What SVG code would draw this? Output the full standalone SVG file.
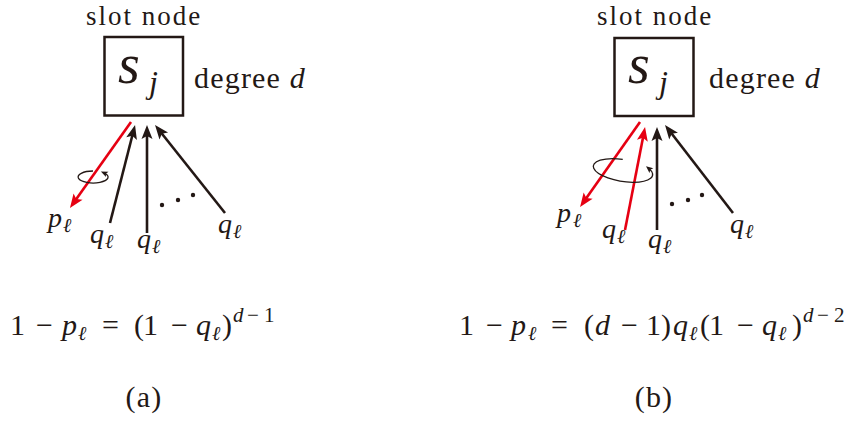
<svg xmlns="http://www.w3.org/2000/svg" width="851" height="422" viewBox="0 0 851 422">
<style>
text{font-family:"Liberation Serif","DejaVu Serif","Times New Roman",serif;fill:#231815}
.lbl{font-size:30px;letter-spacing:1.2px}
.top{font-size:27px;letter-spacing:2px}
.it{font-style:italic}
.m{font-size:30px}
.sub{font-size:20px;font-style:italic}
.sup{font-size:21px}
.box{fill:none;stroke:#231815;stroke-width:2.5}
.blk{stroke:#231815;stroke-width:2.6;fill:none}
.red{stroke:#e60012;stroke-width:2.6;fill:none}
.rot{stroke:#231815;stroke-width:1.3;fill:none}
</style>
<defs>
<marker id="ab" markerUnits="userSpaceOnUse" viewBox="-10 -10 20 20" markerWidth="20" markerHeight="20" refX="0" refY="0" orient="auto">
<path d="M7,0 L-7,-5.5 L-4,0 L-7,5.5 Z" fill="#231815"/>
</marker>
<marker id="ar" markerUnits="userSpaceOnUse" viewBox="-10 -10 20 20" markerWidth="20" markerHeight="20" refX="0" refY="0" orient="auto">
<path d="M7,0 L-7,-5.5 L-4,0 L-7,5.5 Z" fill="#e60012"/>
</marker>
<marker id="as" markerUnits="userSpaceOnUse" viewBox="-6 -6 12 12" markerWidth="12" markerHeight="12" refX="0" refY="0" orient="auto">
<path d="M4,0 L-3,-3 L-1.5,0 L-3,3 Z" fill="#231815"/>
</marker>
</defs>

<!-- Panel (a) -->
<g id="node-a">
<text class="top" x="144" y="25" text-anchor="middle">slot node</text>
<rect class="box" x="104.5" y="37" width="78.5" height="78.5"/>
<text class="it" x="118" y="83" font-size="56">s</text>
<text class="it" x="149" y="93" font-size="32">j</text>
<text class="lbl" x="194" y="88">degree <tspan class="it">d</tspan></text>
</g>
<g id="connectors-a">
<line class="red" x1="131" y1="122" x2="74.0" y2="202.3" marker-end="url(#ar)"/>
<line class="blk" x1="110" y1="223" x2="133.3" y2="131.8" marker-end="url(#ab)"/>
<line class="blk" x1="147" y1="233" x2="147" y2="132" marker-end="url(#ab)"/>
<line class="blk" x1="225" y1="213" x2="159.4" y2="130.5" marker-end="url(#ab)"/>
<path class="rot" d="M93,171 A15,6 0 1 0 104.5,173.1" marker-end="url(#as)"/>
<circle cx="162" cy="205" r="2.2" fill="#231815"/>
<circle cx="178" cy="200" r="2.2" fill="#231815"/>
<circle cx="193" cy="195" r="2.2" fill="#231815"/>
</g>
<g id="labels-a">
<text x="48" y="227"><tspan class="it" font-size="28">p</tspan><tspan class="sub" x="63" y="232">ℓ</tspan></text>
<text x="90" y="243"><tspan class="it" font-size="28">q</tspan><tspan class="sub" x="105" y="248">ℓ</tspan></text>
<text x="137" y="248"><tspan class="it" font-size="28">q</tspan><tspan class="sub" x="152" y="253">ℓ</tspan></text>
<text x="218" y="233"><tspan class="it" font-size="28">q</tspan><tspan class="sub" x="233" y="238">ℓ</tspan></text>
</g>
<g id="eq-a">
<text class="m" x="10" y="335">1<tspan x="36">−</tspan><tspan class="it" x="62">p</tspan><tspan class="sub" x="78" y="340">ℓ</tspan><tspan x="102" y="335">=</tspan><tspan x="134">(</tspan><tspan x="143">1</tspan><tspan x="171">−</tspan><tspan class="it" x="196">q</tspan><tspan class="sub" x="212" y="340">ℓ</tspan><tspan x="222" y="335">)</tspan><tspan class="sup it" x="233" y="322">d</tspan><tspan class="sup" x="247">−</tspan><tspan class="sup" x="264">1</tspan></text>
</g>
<text class="lbl" x="144" y="407" text-anchor="middle">(a)</text>

<!-- Panel (b) -->
<g id="node-b">
<text class="top" x="655" y="25" text-anchor="middle">slot node</text>
<rect class="box" x="614.5" y="38" width="79" height="78"/>
<text class="it" x="628" y="83" font-size="56">s</text>
<text class="it" x="659" y="93" font-size="32">j</text>
<text class="lbl" x="709" y="88">degree <tspan class="it">d</tspan></text>
</g>
<g id="connectors-b">
<line class="red" x1="640" y1="122" x2="584.1" y2="201.3" marker-end="url(#ar)"/>
<line class="red" x1="625" y1="230" x2="643.7" y2="133.9" marker-end="url(#ar)"/>
<line class="blk" x1="657" y1="230" x2="657" y2="134" marker-end="url(#ab)"/>
<line class="blk" x1="733" y1="213" x2="669.3" y2="130.5" marker-end="url(#ab)"/>
<path class="rot" transform="translate(623,170.5) rotate(9)" d="M-2,-11 A30,11 0 1 0 25.5,-5.8" marker-end="url(#as)"/>
<circle cx="672" cy="204" r="2.2" fill="#231815"/>
<circle cx="688" cy="200" r="2.2" fill="#231815"/>
<circle cx="702" cy="195" r="2.2" fill="#231815"/>
</g>
<g id="labels-b">
<text x="557" y="222"><tspan class="it" font-size="28">p</tspan><tspan class="sub" x="573" y="227">ℓ</tspan></text>
<text x="602" y="238"><tspan class="it" font-size="28">q</tspan><tspan class="sub" x="617" y="243">ℓ</tspan></text>
<text x="648" y="248"><tspan class="it" font-size="28">q</tspan><tspan class="sub" x="663" y="253">ℓ</tspan></text>
<text x="730" y="233"><tspan class="it" font-size="28">q</tspan><tspan class="sub" x="745" y="238">ℓ</tspan></text>
</g>
<g id="eq-b">
<text class="m" x="459" y="335">1<tspan x="486">−</tspan><tspan class="it" x="511">p</tspan><tspan class="sub" x="528" y="340">ℓ</tspan><tspan x="551" y="335">=</tspan><tspan x="584">(</tspan><tspan class="it" x="595">d</tspan><tspan x="621">−</tspan><tspan x="646">1</tspan><tspan x="661">)</tspan><tspan class="it" x="673">q</tspan><tspan class="sub" x="689" y="340">ℓ</tspan><tspan x="700" y="335">(</tspan><tspan x="709">1</tspan><tspan x="737">−</tspan><tspan class="it" x="762">q</tspan><tspan class="sub" x="778" y="340">ℓ</tspan><tspan x="792" y="335">)</tspan><tspan class="sup it" x="803" y="322">d</tspan><tspan class="sup" x="817">−</tspan><tspan class="sup" x="834">2</tspan></text>
</g>
<text class="lbl" x="654" y="407" text-anchor="middle">(b)</text>
</svg>
